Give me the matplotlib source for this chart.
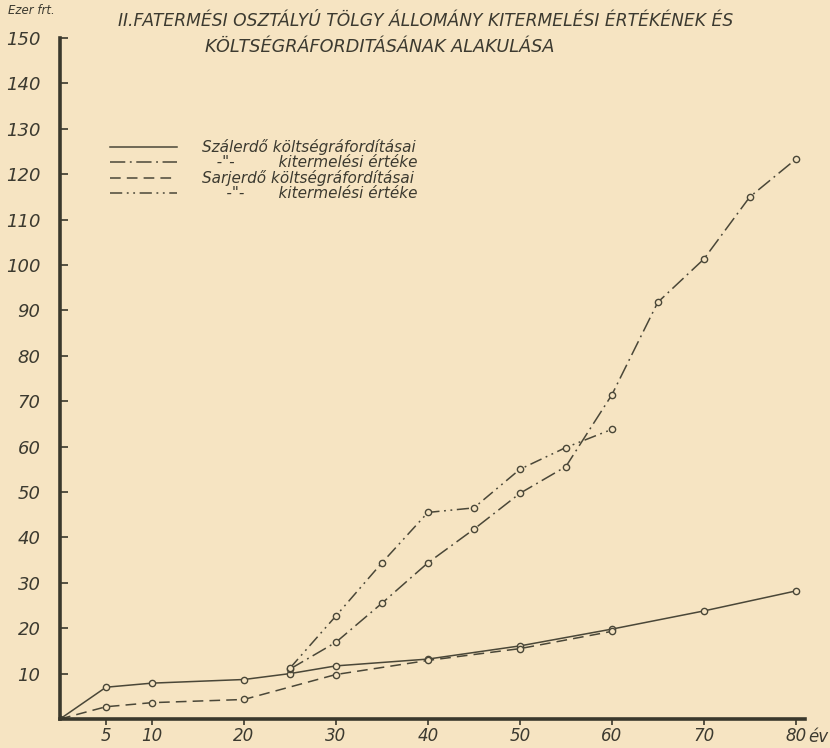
import matplotlib
matplotlib.use("Agg")
import matplotlib.pyplot as plt

# ---- data ----
x_szal_kolt = [0, 5, 10, 20, 25, 30, 40, 50, 60, 70, 80]
y_szal_kolt = [0, 7.0, 7.9, 8.7, 10.0, 11.7, 13.2, 16.1, 19.8, 23.8, 28.2]

x_szal_kit = [25, 30, 35, 40, 45, 50, 55, 60, 65, 70, 75, 80]
y_szal_kit = [11.0, 16.9, 25.5, 34.4, 41.8, 49.7, 55.6, 71.4, 91.8, 101.3, 115.0, 123.3]

x_sarj_kolt = [0, 5, 10, 20, 30, 40, 50, 60]
y_sarj_kolt = [0, 2.7, 3.6, 4.3, 9.8, 12.9, 15.5, 19.3]

x_sarj_kit = [25, 30, 35, 40, 45, 50, 55, 60]
y_sarj_kit = [11.2, 22.7, 34.4, 45.5, 46.5, 55.0, 59.8, 63.8]

labels = ['Szálerdő költségráfordításai',
          '   -"-         kitermelési értéke',
          'Sarjerdő költségráfordításai',
          '     -"-       kitermelési értéke']

x_ticks = [5, 10, 20, 30, 40, 50, 60, 70, 80]
x_ticklabels = ['5', '10', '20', '30', '40', '50', '60', '70', '80']
y_ticks = list(range(10, 151, 10))

title1 = 'II.FATERMÉSI OSZTÁLYÚ TÖLGY ÁLLOMÁNY KITERMELÉSI ÉRTÉKÉNEK ÉS'
title2 = 'KÖLTSÉGRÁFORDITÁSÁNAK ALAKULÁSA'

# ---- style ----
paper = '#f6e4c2'
ink = '#4a4738'
txt = '#3c3a30'

fig = plt.figure(figsize=(8.3, 7.48), dpi=100, facecolor=paper)
ax = fig.add_axes([60/830, 29/748, (805-60)/830, (719-38)/748])
ax.set_facecolor(paper)
ax.set_xlim(0, 81)
ax.set_ylim(0, 150)

mk = dict(marker='o', markersize=4.5, markerfacecolor=paper,
          markeredgecolor=ink, markeredgewidth=1.0, color=ink, linewidth=1.1)

ax.plot(x_szal_kolt, y_szal_kolt, linestyle='-', label=labels[0], **mk)
ax.plot(x_szal_kit, y_szal_kit, linestyle=(0, (10, 3, 1.2, 3)), label=labels[1], **mk)
ax.plot(x_sarj_kolt, y_sarj_kolt, linestyle=(0, (7, 4)), label=labels[2], **mk)
ax.plot(x_sarj_kit, y_sarj_kit, linestyle=(0, (8, 3, 1.2, 3, 1.2, 3)), label=labels[3], **mk)

for s in ['top', 'right']:
    ax.spines[s].set_visible(False)
for s in ['left', 'bottom']:
    ax.spines[s].set_linewidth(2.6)
    ax.spines[s].set_color('#3a382c')

ax.set_yticks(y_ticks)
ax.set_yticklabels([str(v) for v in y_ticks])
ax.set_xticks(x_ticks)
ax.set_xticklabels(x_ticklabels)
ax.tick_params(axis='y', direction='in', length=6, width=1.2, color='#3a382c',
               pad=14, labelsize=13, labelcolor=txt)
ax.tick_params(axis='x', direction='out', length=4, width=1.2, color='#3a382c',
               pad=1.5, labelsize=12, labelcolor=txt)
for t in ax.get_xticklabels() + ax.get_yticklabels():
    t.set_fontstyle('italic')

fig.text(818/830, 1 - 737/748, 'év', fontsize=12, fontstyle='italic',
         color=txt, ha='center', va='center')

fig.text(8/830, 1 - 11/748, 'Ezer frt.', fontsize=8.5, fontstyle='italic',
         color=txt, ha='left', va='center')
fig.text(118/830, 1 - 21/748, title1, fontsize=12.3, fontstyle='italic',
         color=txt, ha='left', va='center')
fig.text(205/830, 1 - 47/748, title2, fontsize=12.7, fontstyle='italic',
         color=txt, ha='left', va='center')

leg = ax.legend(loc='upper left', bbox_to_anchor=(50/745, (681 - 101)/681),
                frameon=False, fontsize=11, handlelength=4.4, handletextpad=1.6,
                labelspacing=0.0, borderpad=0, borderaxespad=0)
for t in leg.get_texts():
    t.set_fontstyle('italic')
    t.set_color(txt)
for h in leg.get_lines():
    h.set_marker('')
    h.set_linewidth(1.1)

fig.savefig('out.png', dpi=100, facecolor=paper)
